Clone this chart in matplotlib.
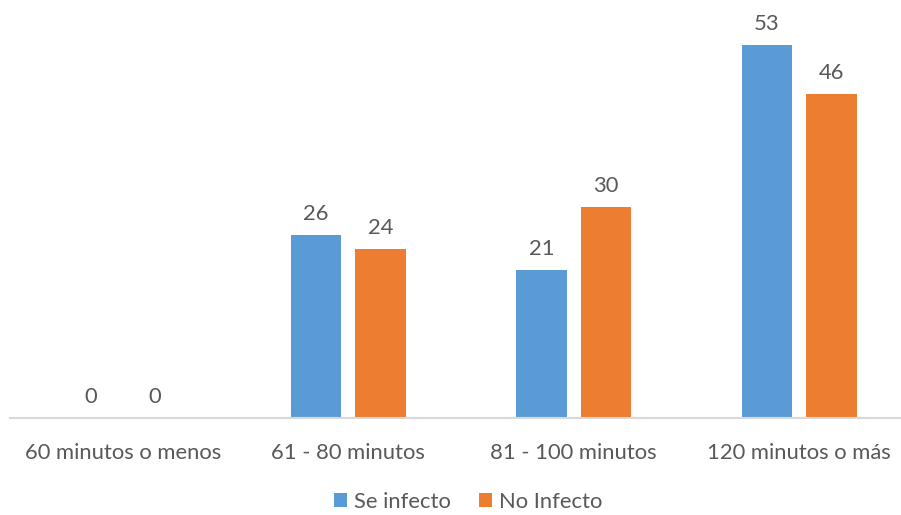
import matplotlib
matplotlib.use("Agg")
import matplotlib.pyplot as plt
import numpy as np

categories = ["60 minutos o menos", "61 - 80 minutos", "81 - 100 minutos", "120 minutos o más"]
se_infecto = [0, 26, 21, 53]
no_infecto = [0, 24, 30, 46]
series_names = ["Se infecto", "No Infecto"]

BLUE = "#5B9BD5"
ORANGE = "#ED7D31"
TEXT = "#595959"

plt.rcParams["font.family"] = ["Lato", "DejaVu Sans"]
FS = 15.8

W, H = 901, 515
fig = plt.figure(figsize=(W / 100, H / 100), dpi=100)
# plot area in pixel units: left 10, baseline at 418, top at 10
left, right, top, base = 10, 912, 10, 418
ax = fig.add_axes([left / W, (H - base) / H, (right - left) / W, (base - top) / H])
ax.set_xlim(-0.5, 3.5)
ax.set_ylim(0, 57.95)

x = np.arange(len(categories))
width = 0.226
off = 0.143
b1 = ax.bar(x - off, se_infecto, width, color=BLUE, label=series_names[0])
b2 = ax.bar(x + off, no_infecto, width, color=ORANGE, label=series_names[1])

for bars, vals in ((b1, se_infecto), (b2, no_infecto)):
    for r, v in zip(bars, vals):
        ax.annotate(str(v), (r.get_x() + r.get_width() / 2, v), xytext=(0, 8),
                    textcoords="offset points", ha="center", va="bottom",
                    fontsize=FS, color=TEXT)

for s in ("top", "right", "left"):
    ax.spines[s].set_visible(False)
ax.spines["bottom"].set_color("#D9D9D9")
ax.spines["bottom"].set_linewidth(1.5)
ax.set_yticks([])
ax.set_xticks(x)
ax.set_xticklabels(categories, fontsize=FS, color=TEXT)
ax.tick_params(axis="x", length=0, pad=18)

leg = fig.legend(handles=[b1, b2], labels=series_names, loc="center",
                 bbox_to_anchor=(468 / W, 1 - 502 / H), ncol=2, frameon=False,
                 fontsize=FS, handlelength=0.6, handleheight=0.6,
                 handletextpad=0.3, columnspacing=1.3, labelcolor=TEXT)

fig.savefig("out.png", dpi=100)
